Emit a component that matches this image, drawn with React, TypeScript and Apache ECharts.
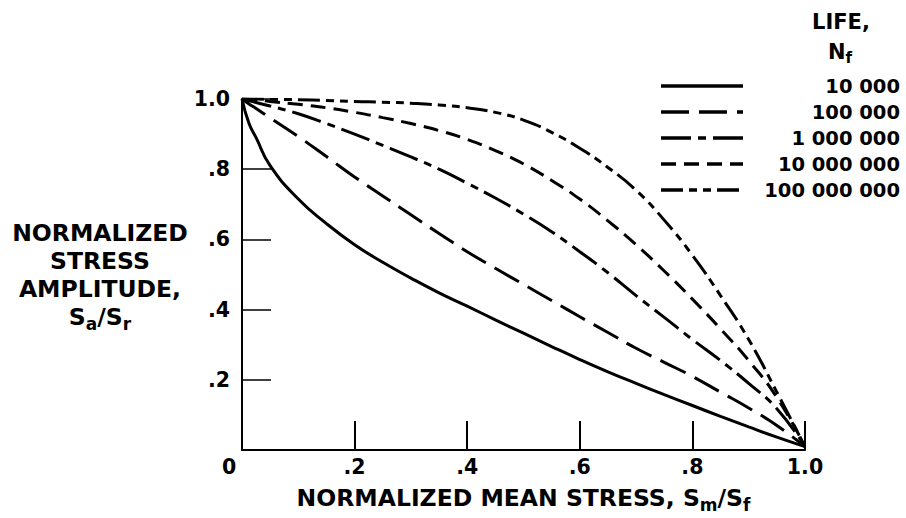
import React, { useEffect, useRef } from "react";
import * as echarts from "echarts";

// Normalized mean stress S_m/S_f (shared x positions where curves were read)
const meanStress = [0, 0.0125, 0.025, 0.05, 0.1, 0.15, 0.2, 0.25, 0.3, 0.35, 0.4, 0.45, 0.5, 0.55, 0.6, 0.65, 0.7, 0.75, 0.8, 0.85, 0.9, 0.95, 1.0];
// Normalized stress amplitude S_a/S_r for each life N_f
const life1e4 = [1.0, 0.93, 0.89, 0.81, 0.715, 0.645, 0.585, 0.535, 0.49, 0.448, 0.41, 0.371, 0.333, 0.295, 0.258, 0.223, 0.19, 0.158, 0.127, 0.096, 0.066, 0.037, 0.01];
const life1e5 = [1.0, 0.986, 0.973, 0.946, 0.893, 0.836, 0.778, 0.724, 0.67, 0.617, 0.565, 0.518, 0.472, 0.426, 0.38, 0.335, 0.29, 0.25, 0.21, 0.165, 0.12, 0.07, 0.01];
const life1e6 = [1.0, 0.995, 0.99, 0.98, 0.958, 0.93, 0.9, 0.868, 0.835, 0.8, 0.76, 0.718, 0.672, 0.622, 0.565, 0.505, 0.44, 0.378, 0.315, 0.255, 0.19, 0.118, 0.01];
const life1e7 = [1.0, 0.999, 0.998, 0.993, 0.985, 0.975, 0.962, 0.947, 0.93, 0.91, 0.885, 0.853, 0.815, 0.768, 0.715, 0.653, 0.585, 0.51, 0.43, 0.345, 0.255, 0.15, 0.01];
const life1e8 = [1.0, 1.0, 1.0, 0.999, 0.998, 0.996, 0.993, 0.991, 0.988, 0.983, 0.975, 0.962, 0.94, 0.905, 0.86, 0.805, 0.74, 0.655, 0.555, 0.44, 0.315, 0.165, 0.01];

const lifeLabels = ["10 000", "100 000", "1 000 000", "10 000 000", "100 000 000"];
const xTickLabels = ["0", ".2", ".4", ".6", ".8", "1.0"];
const yTickLabels = ["", ".2", ".4", ".6", ".8", "1.0"];

const FONT = '"DejaVu Sans", "Liberation Sans", sans-serif';

export default function App() {
  const ref = useRef<HTMLDivElement>(null);

  useEffect(() => {
    document.body.style.margin = "0";
    const chart = echarts.init(ref.current as HTMLDivElement, null, { renderer: "svg" });

    const seriesYs = [life1e4, life1e5, life1e6, life1e7, life1e8];
    const dashes: any[] = ["solid", [28, 10], [30, 7, 8, 7], [15, 8], [22, 6, 8, 6, 8, 6]];

    const nStyle = { fontFamily: FONT, fontWeight: "bold", fontSize: 23.5, color: "#000", lineHeight: 28 };
    const sStyle = { fontFamily: FONT, fontWeight: "bold", fontSize: 17, color: "#000", lineHeight: 28, padding: [14, 0, 0, 0] };

    const rowY = (i: number) => 86 + 26 * i;

    const graphic: any[] = [
      {
        type: "text",
        x: 841,
        y: 22,
        style: { text: "LIFE,", font: `bold 21px ${FONT}`, fill: "#000", align: "center", verticalAlign: "middle" },
      },
      {
        type: "text",
        x: 840,
        y: 52,
        style: {
          text: "{n|N}{s|f}",
          align: "center",
          verticalAlign: "middle",
          rich: {
            n: { fontFamily: FONT, fontWeight: "bold", fontSize: 21, fill: "#000", lineHeight: 26 },
            s: { fontFamily: FONT, fontWeight: "bold", fontSize: 15, fill: "#000", lineHeight: 26, padding: [12, 0, 0, 0] },
          },
        },
      },
    ];
    lifeLabels.forEach((lab, i) => {
      graphic.push({
        type: "line",
        shape: { x1: 661, y1: rowY(i), x2: 743, y2: rowY(i) },
        style: { stroke: "#000", lineWidth: 3.5, lineDash: dashes[i] === "solid" ? null : dashes[i] },
      });
      graphic.push({
        type: "text",
        x: 900,
        y: rowY(i),
        style: { text: lab, font: `bold 19.5px ${FONT}`, fill: "#000", align: "right", verticalAlign: "middle" },
      });
    });

    chart.setOption({
      animation: false,
      backgroundColor: "#fff",
      grid: { left: 242, right: 101, top: 99, bottom: 64, containLabel: false },
      xAxis: {
        type: "value",
        min: 0,
        max: 1,
        interval: 0.2,
        name: "{n|NORMALIZED MEAN STRESS, S}{s|m}{n|/S}{s|f}",
        nameLocation: "middle",
        nameGap: 37,
        nameTextStyle: { align: "center", verticalAlign: "middle", rich: { n: nStyle, s: sStyle } },
        axisLine: { lineStyle: { color: "#000", width: 2 } },
        axisTick: { inside: true, length: 29, lineStyle: { color: "#000", width: 2 } },
        splitLine: { show: false },
        axisLabel: {
          margin: 6,
          fontFamily: FONT,
          fontWeight: "bold",
          fontSize: 20.5,
          color: "#000",
          formatter: (_v: number, idx: number) => (idx === 0 ? "{z|0}" : xTickLabels[idx]),
          rich: {
            z: { fontFamily: FONT, fontWeight: "bold", fontSize: 20.5, color: "#000", padding: [0, 26, 0, 0] },
          },
        },
      },
      yAxis: {
        type: "value",
        min: 0,
        max: 1,
        interval: 0.2,
        name: "{n|NORMALIZED}\n{n|STRESS}\n{n|AMPLITUDE,}\n{n|S}{s|a}{n|/S}{s|r}",
        nameLocation: "middle",
        nameRotate: 0,
        nameGap: 142,
        nameTextStyle: { align: "center", verticalAlign: "middle", rich: { n: nStyle, s: sStyle } },
        axisLine: { lineStyle: { color: "#000", width: 2 } },
        axisTick: { inside: true, length: 29, lineStyle: { color: "#000", width: 1.5 } },
        splitLine: { show: false },
        axisLabel: {
          margin: 12,
          fontFamily: FONT,
          fontWeight: "bold",
          fontSize: 20.5,
          color: "#000",
          formatter: (_v: number, idx: number) => yTickLabels[idx],
        },
      },
      series: seriesYs.map((ys, i) => ({
        name: lifeLabels[i],
        type: "line",
        data: meanStress.map((x, j) => [x, ys[j]]),
        showSymbol: false,
        symbol: "none",
        smooth: 0.5,
        lineStyle: { color: "#000", width: 3, type: dashes[i], cap: "butt" },
        z: 3,
      })),
      graphic,
    });

    return () => chart.dispose();
  }, []);

  return <div ref={ref} style={{ position: "absolute", left: 0, top: 0, width: 906, height: 518 }} />;
}
